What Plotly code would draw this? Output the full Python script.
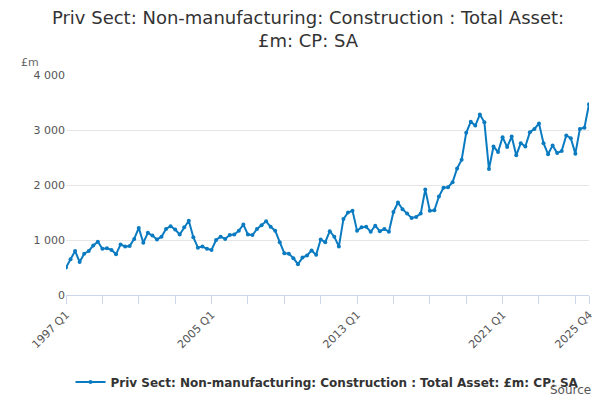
import plotly.graph_objects as go

years = list(range(1997, 2026))
quarters = [f"{y} Q{q}" for y in years for q in range(1, 5)]
values = [
    500, 650, 800, 600,
    750, 800, 900, 970,
    840, 850, 820, 740,
    920, 880, 890, 1020,
    1220, 950, 1130, 1080,
    1010, 1060, 1200, 1250,
    1190, 1100, 1230, 1350,
    1050, 860, 880, 840,
    820, 1000, 1060, 1020,
    1090, 1100, 1170, 1280,
    1100, 1090, 1200, 1270,
    1340, 1240, 1170, 960,
    760, 750, 670, 560,
    680, 720, 810, 730,
    1010, 960, 1160, 1060,
    880, 1380, 1500, 1530,
    1170, 1230, 1240, 1150,
    1260, 1160, 1200, 1150,
    1510, 1680, 1560, 1480,
    1400, 1420, 1480, 1920,
    1530, 1540, 1790, 1950,
    1960, 2050, 2300, 2460,
    2950, 3150, 3080, 3280,
    3140, 2290, 2700, 2600,
    2870, 2690, 2880, 2540,
    2760, 2700, 2960, 3020,
    3120, 2760, 2560, 2720,
    2580, 2620, 2900, 2850,
    2570, 3020, 3040, 3470,
]
values = values[:len(quarters)]
labeled = {"1997 Q1", "2005 Q1", "2013 Q1", "2021 Q1", "2025 Q4"}
tickvals = quarters[::8] + [quarters[-1]]
ticktext = [q if q in labeled else "" for q in tickvals]

name = "Priv Sect: Non-manufacturing: Construction : Total Asset: £m: CP: SA"
fig = go.Figure(go.Scatter(
    x=quarters, y=values, mode="lines+markers", name=name,
    line=dict(color="#0b7bc1", width=2), marker=dict(size=4, color="#0b7bc1"),
    showlegend=True))
fig.update_layout(
    width=600, height=400, template="plotly_white",
    font=dict(family="DejaVu Sans", color="#555", size=11),
    title=dict(text="Priv Sect: Non-manufacturing: Construction : Total Asset:<br>£m: CP: SA",
               x=0.5, y=0.96, xanchor="center", font=dict(size=18, color="#333")),
    margin=dict(l=58, r=19, t=67, b=103),
    legend=dict(orientation="h", x=0.5, xanchor="center", y=-0.33, yanchor="top",
                font=dict(size=12, color="#333")),
    annotations=[
        dict(text="£m", xref="paper", yref="paper", x=-0.09, y=1.02, showarrow=False,
             xanchor="left", yanchor="bottom", font=dict(size=11, color="#666")),
        dict(text="Source:", xref="paper", yref="paper", x=1.015, y=-0.39, showarrow=False,
             xanchor="right", yanchor="top", font=dict(size=12, color="#555")),
    ],
)
fig.data[0].name = "<b>" + name + "</b>"
fig.update_xaxes(type="category", tickvals=tickvals, ticktext=ticktext, tickangle=-45,
                 showgrid=False, showline=True, linecolor="#ccd6eb", ticks="outside",
                 tickcolor="#ccd6eb", ticklen=8, range=[0, len(quarters)-1])
fig.update_yaxes(range=[0, 4000], tickvals=[0, 1000, 2000, 3000, 4000],
                 ticktext=["0", "1 000", "2 000", "3 000", "4 000"],
                 gridcolor="#e6e6e6", zeroline=False)
fig.write_html("out.html")
